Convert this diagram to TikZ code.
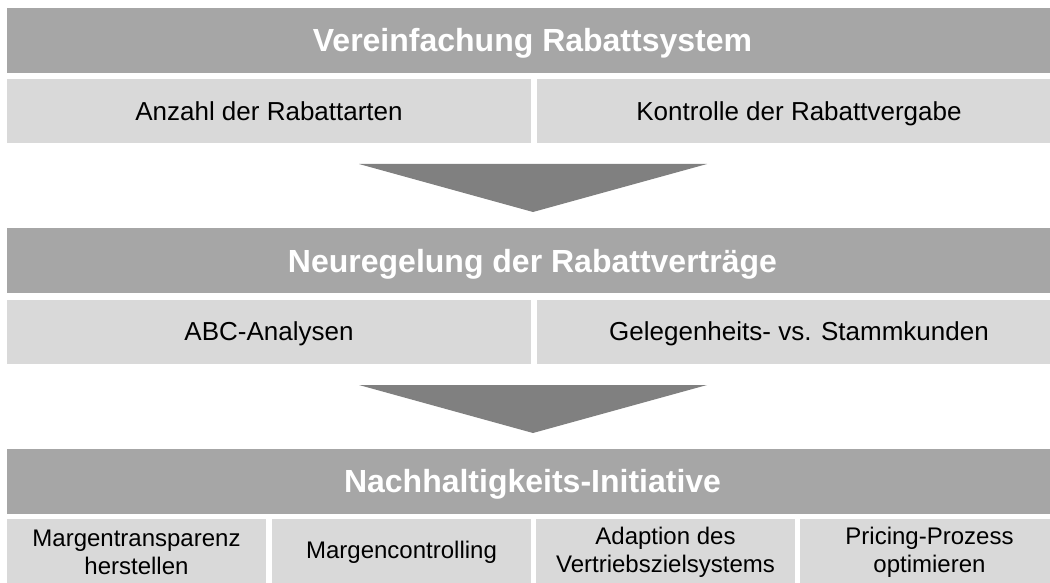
\documentclass[tikz,border=0pt]{standalone}
\usepackage{fontspec}
\setmainfont{Liberation Sans}
\definecolor{banddark}{HTML}{A6A6A6}
\definecolor{bandlight}{HTML}{D9D9D9}
\definecolor{arrowgray}{HTML}{808080}
\tikzset{
  band/.style={fill=banddark, draw=none, inner sep=0pt, text=white,
    font=\fontsize{32}{38}\selectfont\bfseries, minimum width=1051pt, minimum height=65pt,
    text height=23pt, text depth=0pt},
  subbox/.style={fill=bandlight, draw=none, inner sep=0pt, text=black, align=center,
    font=\fontsize{26}{30}\selectfont, minimum height=64pt},
  halfbox/.style={subbox, minimum width=524pt, text height=18.7pt, text depth=0pt},
  quarterbox/.style={subbox, minimum width=259pt, minimum height=66pt,
    font=\fontsize{24}{28}\selectfont},
  downarrow/.style={fill=arrowgray, draw=none}
}
\begin{document}
\begin{tikzpicture}[x=1pt,y=-1pt]
\useasboundingbox (0,0) rectangle (1050,583);
\clip (0,0) rectangle (1050,583);
\fill[white] (0,0) rectangle (1050,583);
% top section
\node[band] (t1) at (532.5,40.5) {Vereinfachung Rabattsystem};
\node[halfbox] (t1a) at (269,111) {Anzahl der Rabattarten};
\node[halfbox] (t1b) at (799,111) {Kontrolle der Rabattvergabe};
% arrow 1
\coordinate (a1l) at (359,164);
\coordinate (a1r) at (707,164);
\coordinate (a1t) at (533,212);
\fill[downarrow] (a1l) -- (a1r) -- (a1t) -- cycle;
% middle section
\node[band] (t2) at (532.5,260.5) {Neuregelung der Rabattverträge};
\node[halfbox] (t2a) at (269,331.5) {ABC-Analysen};
\node[halfbox] (t2b) at (799,331.5) {Gelegenheits- vs. Stammkunden};
% arrow 2
\coordinate (a2l) at (359,385);
\coordinate (a2r) at (707,385);
\coordinate (a2t) at (533,433);
\fill[downarrow] (a2l) -- (a2r) -- (a2t) -- cycle;
% bottom section
\node[band] (t3) at (532.5,481) {Nachhaltigkeits-Initiative};
\node[quarterbox] (t3a) at (136.5,552) {Margentransparenz\\herstellen};
\node[quarterbox] (t3b) at (401.5,552) {Margencontrolling};
\node[quarterbox] (t3c) at (665.5,552) {Adaption des\\Vertriebszielsystems};
\node[quarterbox] (t3d) at (929.5,552) {Pricing-Prozess\\optimieren};
\end{tikzpicture}
\end{document}
